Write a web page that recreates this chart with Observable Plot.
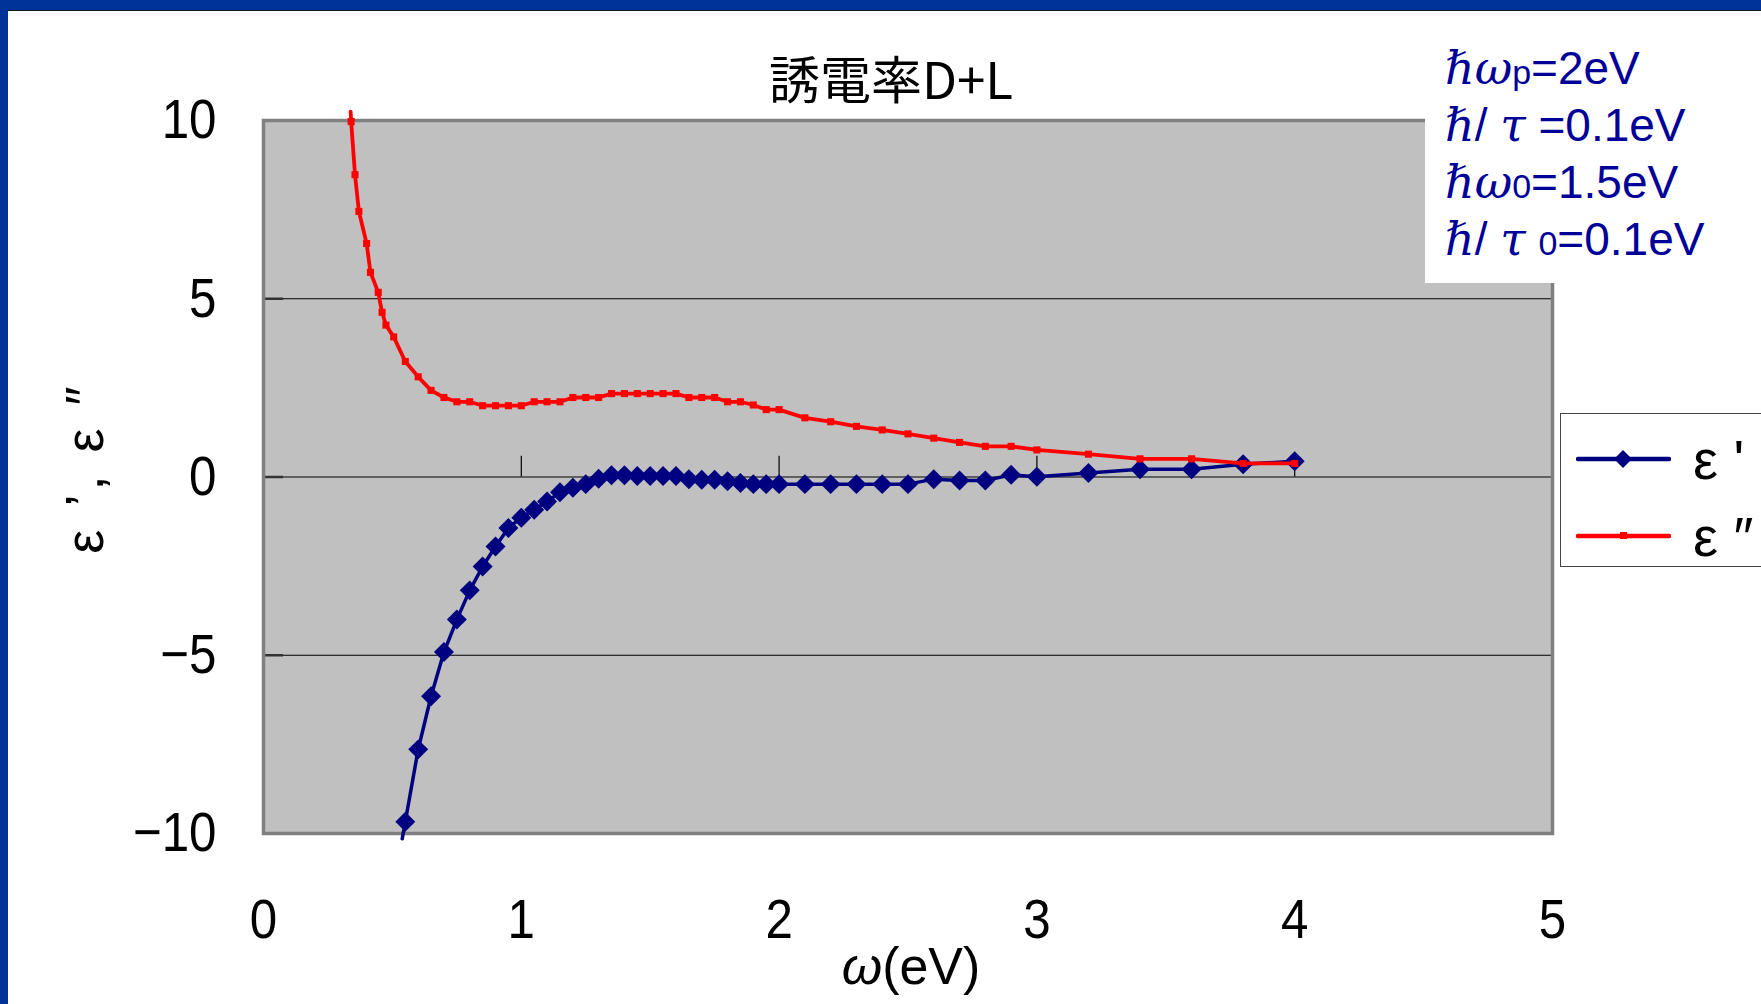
<!DOCTYPE html>
<html>
<head>
<meta charset="utf-8">
<script src="https://cdn.jsdelivr.net/npm/d3@7"></script>
<script src="https://cdn.jsdelivr.net/npm/@observablehq/plot@0.6"></script>
<style>
  html, body { margin: 0; padding: 0; background: #fff; }
  #page { position: relative; width: 1761px; height: 1004px; overflow: hidden; background: #fff;
          font-family: "Liberation Sans", Arial, sans-serif; }
  #chart { position: absolute; left: 0; top: 0; }
  .bar-top { position: absolute; left: 0; top: 0; width: 1761px; height: 10px; background: #003399; border-bottom: 1px solid #1a1a1a; }
  .bar-left { position: absolute; left: 0; top: 0; width: 8px; height: 1004px; background: #003399; }
  #title { position: absolute; left: 891px; top: 77px; transform: translate(-50%, -50%);
           font-family: "Noto Sans CJK JP", sans-serif; font-size: 51px; color: #000; white-space: nowrap; }
  #params { position: absolute; left: 1425px; top: 11px; width: 340px; height: 272px; background: #fff;
            color: #000099; font-size: 46px; padding: 34px 0 0 20px; box-sizing: border-box; white-space: nowrap; }
  #params > div { height: 57px; line-height: 46px; overflow: visible; }
  #params .h { font-family: "DejaVu Serif", serif; font-style: italic; }
  #params .g { font-style: italic; font-family: "DejaVu Serif", serif; }
  #params .s { font-size: 34px; }
  #legend { position: absolute; left: 1560px; top: 413px; width: 230px; height: 154px; background: #fff;
            border: 1.5px solid #444; box-sizing: border-box; }
  #legend .row { position: absolute; left: 15px; height: 40px; display: flex; align-items: center; }
  #legend .row span { font-size: 56px; margin-left: 22px; color: #000; }
  #ylabel { position: absolute; left: 84px; top: 468px; transform: translate(-50%, -50%) rotate(-90deg);
            font-size: 54px; letter-spacing: 4px; white-space: nowrap; color: #000; }
  #xlabel { position: absolute; left: 911px; top: 966px; transform: translate(-50%, -50%);
            font-size: 52px; white-space: nowrap; color: #000; }
</style>
</head>
<body>
<div id="page">
  <div id="chart"></div>
  <div class="bar-top"></div>
  <div class="bar-left"></div>
  <div id="title">誘電率D+L</div>
  <div id="params">
    <div><span class="h">ℏ</span><span class="g">ω</span><span class="s">p</span>=2eV</div>
    <div><span class="h">ℏ</span>/ <span class="g">τ</span> =0.1eV</div>
    <div><span class="h">ℏ</span><span class="g">ω</span><span class="s">0</span>=1.5eV</div>
    <div><span class="h">ℏ</span>/ <span class="g">τ</span> <span class="s">0</span>=0.1eV</div>
  </div>
  <div id="legend"></div>
  <div id="ylabel">ε ’, ε ″</div>
  <div id="xlabel"><i>ω</i>(eV)</div>
</div>
<script>
// ---- data ----
const seriesNames = ["ε '", "ε ″"];
const seriesColors = ["#000080", "#ff0000"];

// ε' (real part); first entry is where the curve leaves the plot area
const omega1 = [0.538, 0.55, 0.60, 0.65, 0.70, 0.75, 0.80, 0.85, 0.90, 0.95, 1.00,
  1.05, 1.10, 1.15, 1.20, 1.25, 1.30, 1.35, 1.40, 1.45, 1.50,
  1.55, 1.60, 1.65, 1.70, 1.75, 1.80, 1.85, 1.90, 1.95, 2.00,
  2.1, 2.2, 2.3, 2.4, 2.5, 2.6, 2.7, 2.8, 2.9, 3.0,
  3.2, 3.4, 3.6, 3.8, 4.0];
const eps1 = [-10.15, -9.67, -7.64, -6.15, -4.91, -4.0, -3.18, -2.51, -1.95, -1.43, -1.14,
  -0.92, -0.69, -0.43, -0.30, -0.20, -0.05, 0.05, 0.05, 0.03, 0.03,
  0.03, 0.03, -0.06, -0.08, -0.08, -0.12, -0.17, -0.20, -0.20, -0.20,
  -0.20, -0.20, -0.20, -0.20, -0.20, -0.06, -0.10, -0.10, 0.06, 0.01,
  0.11, 0.22, 0.22, 0.36, 0.44];

// ε'' (imaginary part); first entry is where the curve leaves the plot area
const omega2 = [0.338, 0.34, 0.355, 0.37, 0.40, 0.415, 0.445, 0.46, 0.475, 0.505,
  0.55, 0.60, 0.65, 0.70, 0.75, 0.80, 0.85, 0.90, 0.95, 1.00,
  1.05, 1.10, 1.15, 1.20, 1.25, 1.30, 1.35, 1.40, 1.45, 1.50,
  1.55, 1.60, 1.65, 1.70, 1.75, 1.80, 1.85, 1.90, 1.95, 2.00,
  2.1, 2.2, 2.3, 2.4, 2.5, 2.6, 2.7, 2.8, 2.9, 3.0,
  3.2, 3.4, 3.6, 3.8, 4.0];
const eps2 = [10.25, 9.97, 8.48, 7.45, 6.55, 5.74, 5.18, 4.62, 4.26, 3.93,
  3.24, 2.81, 2.43, 2.23, 2.11, 2.11, 2.0, 2.0, 2.0, 2.0,
  2.11, 2.11, 2.11, 2.23, 2.23, 2.23, 2.34, 2.34, 2.34, 2.34,
  2.34, 2.34, 2.23, 2.23, 2.23, 2.11, 2.11, 2.02, 1.89, 1.89,
  1.66, 1.55, 1.42, 1.32, 1.21, 1.09, 0.97, 0.86, 0.86, 0.76,
  0.64, 0.51, 0.51, 0.38, 0.38];

const xTicks = [0, 1, 2, 3, 4, 5];
const yTicks = [-10, -5, 0, 5, 10];
const yGrid = [-5, 0, 5];
const xMinorTicks = [1, 2, 3, 4];

// ---- tables ----
const real = omega1.map((x, i) => ({x, y: eps1[i]}));
const imag = omega2.map((x, i) => ({x, y: eps2[i]}));
const inRange = d => d.y >= -10 && d.y <= 10;

const chart = Plot.plot({
  width: 1761,
  height: 1004,
  marginLeft: 263,
  marginRight: 209,
  marginTop: 120,
  marginBottom: 171,
  style: {background: "transparent", fontFamily: "'Liberation Sans', Arial, sans-serif", fontSize: "56px", color: "#000"},
  x: {domain: [0, 5]},
  y: {domain: [-10, 10]},
  marks: [
    Plot.frame({fill: "#c0c0c0"}),
    Plot.ruleY(yGrid, {stroke: "#000", strokeWidth: 1.2}),
    Plot.ruleX(xMinorTicks, {y1: 0, y2: 0.58, stroke: "#000", strokeWidth: 1.2}),
    Plot.ruleY(yTicks, {x1: 0, x2: 0.078, stroke: "#333", strokeWidth: 2.5}),
    Plot.frame({stroke: "#808080", strokeWidth: 3.5}),
    Plot.line(real, {x: "x", y: "y", stroke: seriesColors[0], strokeWidth: 3.5}),
    Plot.dot(real.filter(inRange), {x: "x", y: "y", symbol: "diamond2", r: 9, fill: seriesColors[0], stroke: "none"}),
    Plot.line(imag, {x: "x", y: "y", stroke: seriesColors[1], strokeWidth: 3.8}),
    Plot.dot(imag.filter(inRange), {x: "x", y: "y", symbol: "square", r: 4, fill: seriesColors[1], stroke: "none"}),
    Plot.axisX({ticks: xTicks, tickFormat: d3.format("d"), tickSize: 0, tickPadding: 65, label: null, fontSize: 56}),
    Plot.axisY({ticks: yTicks, tickFormat: d => d < 0 ? "−" + Math.abs(d) : String(d), tickSize: 0, tickPadding: 47, label: null, fontSize: 56})
  ]
});
document.getElementById("chart").appendChild(chart);

// slightly condensed tick labels, as in the reference
d3.select(chart).selectAll("g[aria-label$='tick label'] text").each(function() {
  const t = this.getAttribute("transform") || "";
  this.setAttribute("transform", t + " scale(0.88,1)");
});

// legend (swatches)
const legend = document.getElementById("legend");
seriesNames.forEach((name, i) => {
  const row = document.createElement("div");
  row.className = "row";
  row.style.top = (i === 0 ? 25 : 102) + "px";
  const marker = i === 0
    ? `<path d="M47,11 L56,20 L47,29 L38,20 Z" fill="${seriesColors[i]}"/>`
    : `<rect x="44" y="16" width="7" height="7" fill="${seriesColors[i]}"/>`;
  row.innerHTML = `<svg width="95" height="40"><line x1="2" y1="20" x2="93" y2="20" stroke="${seriesColors[i]}" stroke-width="4.5" stroke-linecap="round"/>${marker}</svg><span>${name}</span>`;
  legend.appendChild(row);
});
</script>
</body>
</html>
